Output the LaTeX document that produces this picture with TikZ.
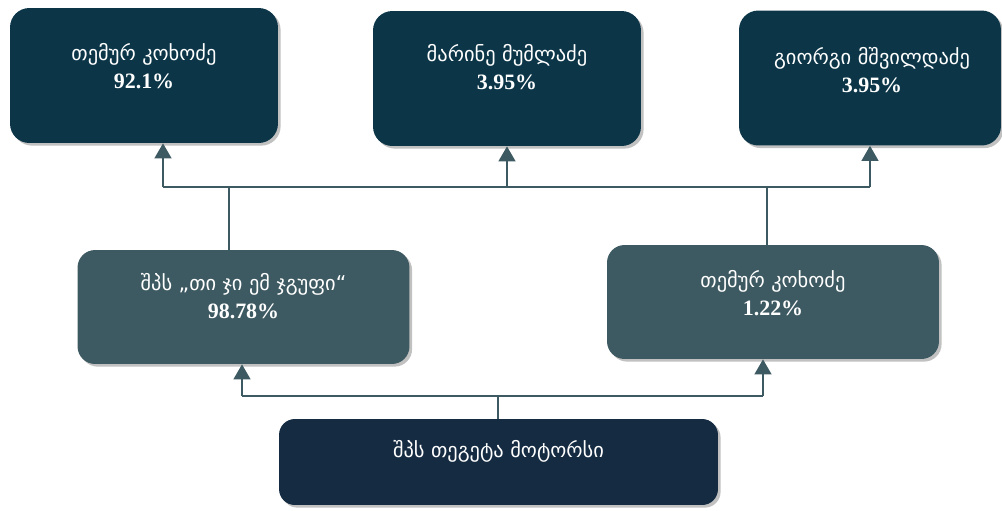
\documentclass[tikz,border=0pt]{standalone}
\usepackage{fontspec}
\setmainfont{Liberation Serif}
\newfontfamily\geofont[Scale=0.93]{DejaVu Sans}
\usepackage{tikz}
\usetikzlibrary{shadows}
\usetikzlibrary{arrows.meta}

\definecolor{ownerblue}{HTML}{0C3648}
\definecolor{midslate}{HTML}{3D5961}
\definecolor{basenavy}{HTML}{142B42}
\definecolor{wirecol}{HTML}{3D5961}

\tikzset{
	box/.style={rectangle, draw=none, inner sep=0pt,
		drop shadow={shadow xshift=1.5pt, shadow yshift=-1.5pt, opacity=0.35, fill=black!70}},
	ownerbox/.style={box, fill=ownerblue, rounded corners=11pt, minimum height=2.7cm},
	midbox/.style={box, fill=midslate, rounded corners=10pt, minimum width=6.64cm, minimum height=2.28cm},
	basebox/.style={box, fill=basenavy, rounded corners=9pt, minimum width=8.78cm, minimum height=1.72cm},
	boxtext/.style={text=white, align=center, font=\fontsize{12.5}{16}\selectfont},
	wire/.style={draw=wirecol, line width=1.2pt},
	flow/.style={wire, -{Triangle[width=9.5pt, length=8.5pt]}},
}

\begin{document}
\begin{tikzpicture}[x=0.02cm, y=-0.02cm]
				\useasboundingbox (0,0) rectangle (1002,511);
				
				\node[ownerbox, minimum width=5.36cm] (T1) at (144,75.5) {};
				\node[ownerbox, minimum width=5.36cm] (T2) at (507,78.5) {};
				\node[ownerbox, minimum width=5.24cm] (T3) at (870,78) {};
				\node[midbox] (M1) at (243.5,307) {};
				\node[midbox] (M2) at (773,302) {};
				\node[basebox] (B) at (498.5,462) {};
				
				\node[boxtext] (T1txt) at (144,66) {{\geofont თემურ კოხოძე}\\\textbf{92.1\%}};
				\node[boxtext] (T2txt) at (507,67) {{\geofont მარინე მუმლაძე}\\\textbf{3.95\%}};
				\node[boxtext] (T3txt) at (872,70) {{\geofont გიორგი მშვილდაძე}\\\textbf{3.95\%}};
				\node[boxtext] (M1txt) at (243.5,296) {{\geofont შპს „თი ჯი ემ ჯგუფი“}\\\textbf{98.78\%}};
				\node[boxtext] (M2txt) at (773,293) {{\geofont თემურ კოხოძე}\\\textbf{1.22\%}};
				\node[boxtext] (Btxt) at (498.5,451) {\geofont შპს თეგეტა მოტორსი};
				
				\coordinate (A1) at (163,187);
				\coordinate (A2) at (507,187);
				\coordinate (A3) at (870,187);
				\coordinate (JL) at (229,187);
				\coordinate (JR) at (767,187);
				\coordinate (BL) at (242,396);
				\coordinate (BR) at (763,396);
				\coordinate (BJ) at (498,396);
				
				\draw[wire] (A1) -- (A3);
				\draw[flow] (A1) -- (T1.south -| A1);
				\draw[flow] (A2) -- (T2.south -| A2);
				\draw[flow] (A3) -- (T3.south -| A3);
				\draw[wire] (M1.north -| JL) -- (JL);
				\draw[wire] (M2.north -| JR) -- (JR);
				
				\draw[wire] (BL) -- (BR);
				\draw[flow] (BL) -- (M1.south -| BL);
				\draw[flow] (BR) -- (M2.south -| BR);
				\draw[wire] (B.north -| BJ) -- (BJ);
			\end{tikzpicture}
\end{document}
